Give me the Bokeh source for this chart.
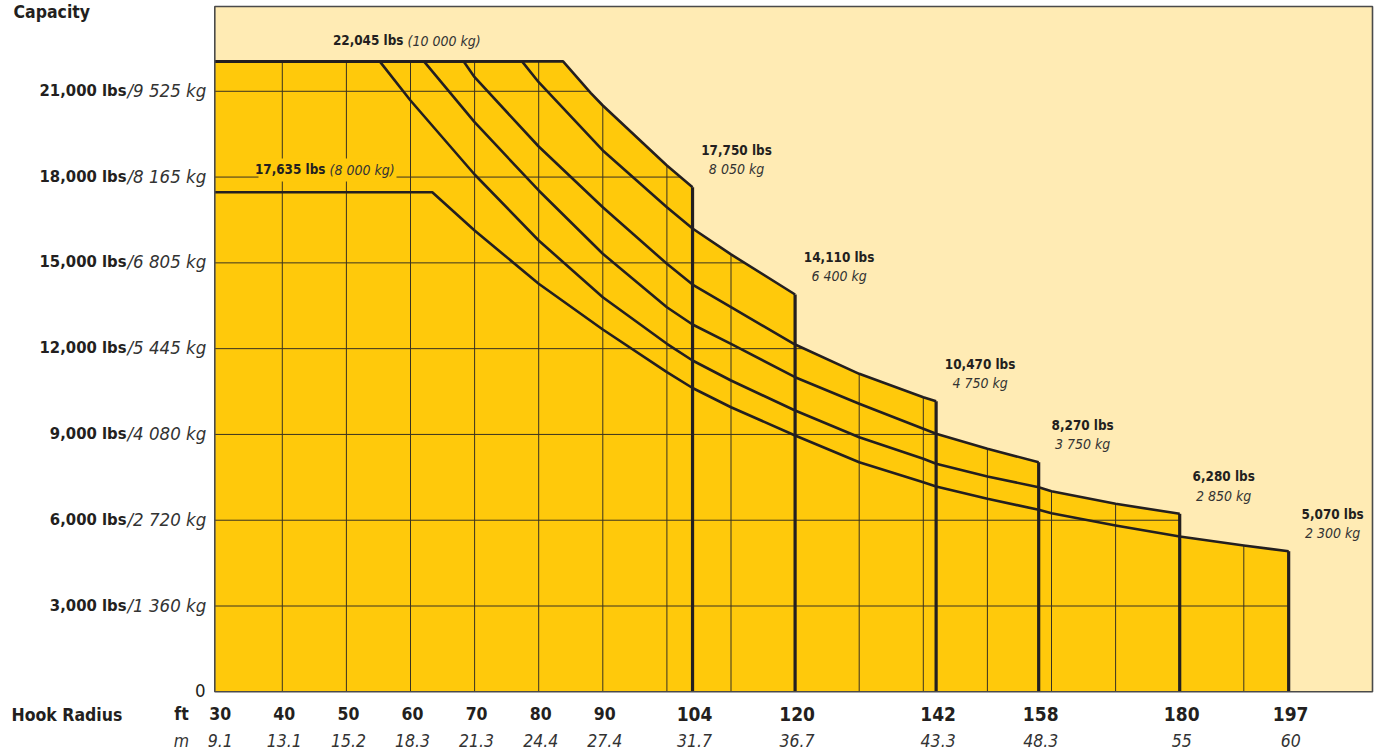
from bokeh.plotting import figure
from bokeh.models import Label, Grid
from bokeh.embed import file_html
from bokeh.resources import INLINE

# ---------------- data ----------------
ft_ticks = [30, 40, 50, 60, 70, 80, 90, 104, 120, 142, 158, 180, 197]
m_ticks = ["9.1", "13.1", "15.2", "18.3", "21.3", "24.4", "27.4", "31.7", "36.7",
           "43.3", "48.3", "55", "60"]
major_ft = [104, 120, 142, 158, 180, 197]
grid_ft = [40, 50, 60, 70, 80, 90, 100, 110, 120, 130, 140, 150, 160, 170, 180, 190]
cap_ticks = [0, 3000, 6000, 9000, 12000, 15000, 18000, 21000]
cap_lbs = ["0", "3,000 lbs", "6,000 lbs", "9,000 lbs", "12,000 lbs", "15,000 lbs",
           "18,000 lbs", "21,000 lbs"]
cap_kg = ["", "/1 360 kg", "/2 720 kg", "/4 080 kg", "/5 445 kg", "/6 805 kg",
          "/8 165 kg", "/9 525 kg"]

# load curves (hook radius ft, capacity lbs), one per boom length
c104_ft = [30, 83.8, 88.1, 90, 100, 104]
c104_lbs = [22045, 22045, 20947, 20503, 18405, 17646]
c120_ft = [30, 77.4, 80, 90, 100, 104, 110, 120]
c120_lbs = [22045, 22045, 21318, 18930, 16946, 16202, 15296, 13894]
c142_ft = [30, 68.3, 70, 80, 90, 100, 104, 110, 120, 130, 140, 142]
c142_lbs = [22045, 22045, 21493, 19069, 16946, 14967, 14243, 13449, 12145, 11120, 10302, 10162]
c158_ft = [30, 62.1, 70, 80, 90, 100, 104, 110, 120, 130, 140, 142, 150, 158]
c158_lbs = [22045, 22045, 19919, 17531, 15317, 13449, 12844, 12170, 11001, 10071, 9197, 9022,
            8498, 8029]
c180_ft = [30, 55.2, 60, 70, 80, 90, 100, 104, 110, 120, 130, 140, 142, 150, 158, 160, 170, 180]
c180_lbs = [22045, 22045, 20678, 18090, 15782, 13799, 12170, 11585, 10886, 9837, 8903, 8148,
            7973, 7529, 7155, 7015, 6574, 6225]
c197_ft = [30, 63.4, 70, 80, 90, 100, 104, 110, 120, 130, 140, 142, 150, 158, 160, 170, 180,
           190, 197]
c197_lbs = [17470, 17470, 16132, 14268, 12670, 11177, 10624, 9952, 8963, 8029, 7330, 7179,
            6749, 6365, 6246, 5815, 5431, 5116, 4917]

end_lbs_text = ["17,750 lbs", "14,110 lbs", "10,470 lbs", "8,270 lbs", "6,280 lbs", "5,070 lbs"]
end_kg_text = ["8 050 kg", "6 400 kg", "4 750 kg", "3 750 kg", "2 850 kg", "2 300 kg"]
top_lbs_text, top_kg_text = "22,045 lbs", "(10 000 kg)"
low_lbs_text, low_kg_text = "17,635 lbs", "(8 000 kg)"

curves = [(c104_ft, c104_lbs), (c120_ft, c120_lbs), (c142_ft, c142_lbs),
          (c158_ft, c158_lbs), (c180_ft, c180_lbs), (c197_ft, c197_lbs)]

# ---------------- style / layout ----------------
GOLD = "#FFC90B"
LIGHT = "#FFEBB4"
INK = "#231F20"
GRID = "#3A3220"
FONT = "DejaVu Sans Condensed"

W, H = 1380, 752
PX30, PX_PER_FT = 217.7, 6.41      # canvas x of 30 ft, pixels per foot
PY0, LBS_PER_PX = 691.3, 34.97     # canvas y of 0 lbs, lbs per pixel


def fx(px):
    return 30 + (px - PX30) / PX_PER_FT


def fy(py):
    return (PY0 - py) * LBS_PER_PX


X0, X1 = fx(214.3), fx(1372)      # plot area
Y1 = fy(6)

p = figure(width=W, height=H, x_range=(fx(0), fx(W)), y_range=(fy(H), fy(0)),
           x_axis_location=None, y_axis_location=None,
           toolbar_location=None, output_backend="svg",
           min_border_left=0, min_border_right=0, min_border_top=0, min_border_bottom=0,
           background_fill_color="white", border_fill_color="white")
p.center = [r for r in p.center if not isinstance(r, Grid)]
p.outline_line_color = None

# plot area
p.quad(left=[X0], right=[X1], bottom=[0], top=[Y1], fill_color=GOLD, line_color=None)

# grid lines (covered outside the load area by the light patch)
p.segment(x0=grid_ft, y0=[0] * len(grid_ft), x1=grid_ft, y1=[Y1] * len(grid_ft),
          line_color=GRID, line_width=1)
hy = cap_ticks[1:]
p.segment(x0=[X0] * len(hy), y0=hy, x1=[X1] * len(hy), y1=hy, line_color=GRID, line_width=1)

# gold box behind the 17,635 lbs label
p.quad(left=[fx(258)], right=[fx(396)], bottom=[fy(181)], top=[fy(158)],
       fill_color=GOLD, line_color=None)

# light area above the envelope
env_x, env_y = [X0], [curves[0][1][0]]
prev_end = None
for fts, lbs in curves:
    for f, l in zip(fts, lbs):
        if prev_end is None or f >= prev_end:
            env_x.append(f)
            env_y.append(l)
    prev_end = fts[-1]
env_x += [prev_end, X1, X1, X0]
env_y += [0, 0, Y1, Y1]
p.patch(env_x, env_y, fill_color=LIGHT, line_color=None)

# curves and boom-length end lines
for fts, lbs in curves:
    p.line([X0] + fts, [lbs[0]] + lbs, line_color=INK, line_width=2.6, line_join="round")
end_ft = [c[0][-1] for c in curves]
end_val = [c[1][-1] for c in curves]
p.segment(x0=end_ft, y0=[0] * len(end_ft), x1=end_ft, y1=end_val, line_color=INK,
          line_width=3.2)

# plot area border
p.quad(left=[X0], right=[X1], bottom=[0], top=[Y1], fill_color=None,
       line_color="#4A4A4A", line_width=1.6)


def txt(x, y, s, size, style="bold", align="center", xo=0, yo=0, color=INK):
    p.add_layout(Label(x=x, y=y, text=s, text_font=FONT, text_font_size=f"{size}px",
                       text_font_style=style, text_color=color, text_align=align,
                       text_baseline="middle", x_offset=xo, y_offset=yo))


# y-axis labels
for v, lb, kg in zip(cap_ticks, cap_lbs, cap_kg):
    if kg:
        txt(fx(126), v, lb, 16.5, "bold", "right", yo=1)
        txt(fx(127), v, kg, 18.5, "italic", "left", yo=1, color="#333333")
    else:
        txt(fx(205), v, lb, 18.5, "normal", "right", yo=1)

# x-axis labels
for f, m in zip(ft_ticks, m_ticks):
    big = f in major_ft
    txt(f, fy(713), str(f), 19 if big else 17.5, "bold", "center", xo=2)
    txt(f, fy(740), m, 17.5, "italic", "center", xo=2, color="#333333")
txt(fx(11), fy(714), "Hook Radius", 17.5, "bold", "left")
txt(fx(181), fy(713), "ft", 17.5, "bold", "center")
txt(fx(181), fy(740), "m", 17.5, "italic", "center", color="#333333")
txt(fx(13), fy(11), "Capacity", 17.5, "bold", "left")

# maximum capacity labels
txt(fx(403), fy(40), top_lbs_text, 13.4, "bold", "right")
txt(fx(407), fy(40), top_kg_text, 14, "italic", "left", color="#333333")
txt(fx(325), fy(169), low_lbs_text, 13.4, "bold", "right")
txt(fx(329), fy(169), low_kg_text, 14, "italic", "left", color="#333333")

# end-of-curve labels
for f, v, a, b in zip(end_ft, end_val, end_lbs_text, end_kg_text):
    txt(f, v, a, 13.4, "bold", "center", xo=44, yo=37)
    txt(f, v, b, 14, "italic", "center", xo=44, yo=18, color="#333333")

open("out.html", "w").write(file_html(p, INLINE))
